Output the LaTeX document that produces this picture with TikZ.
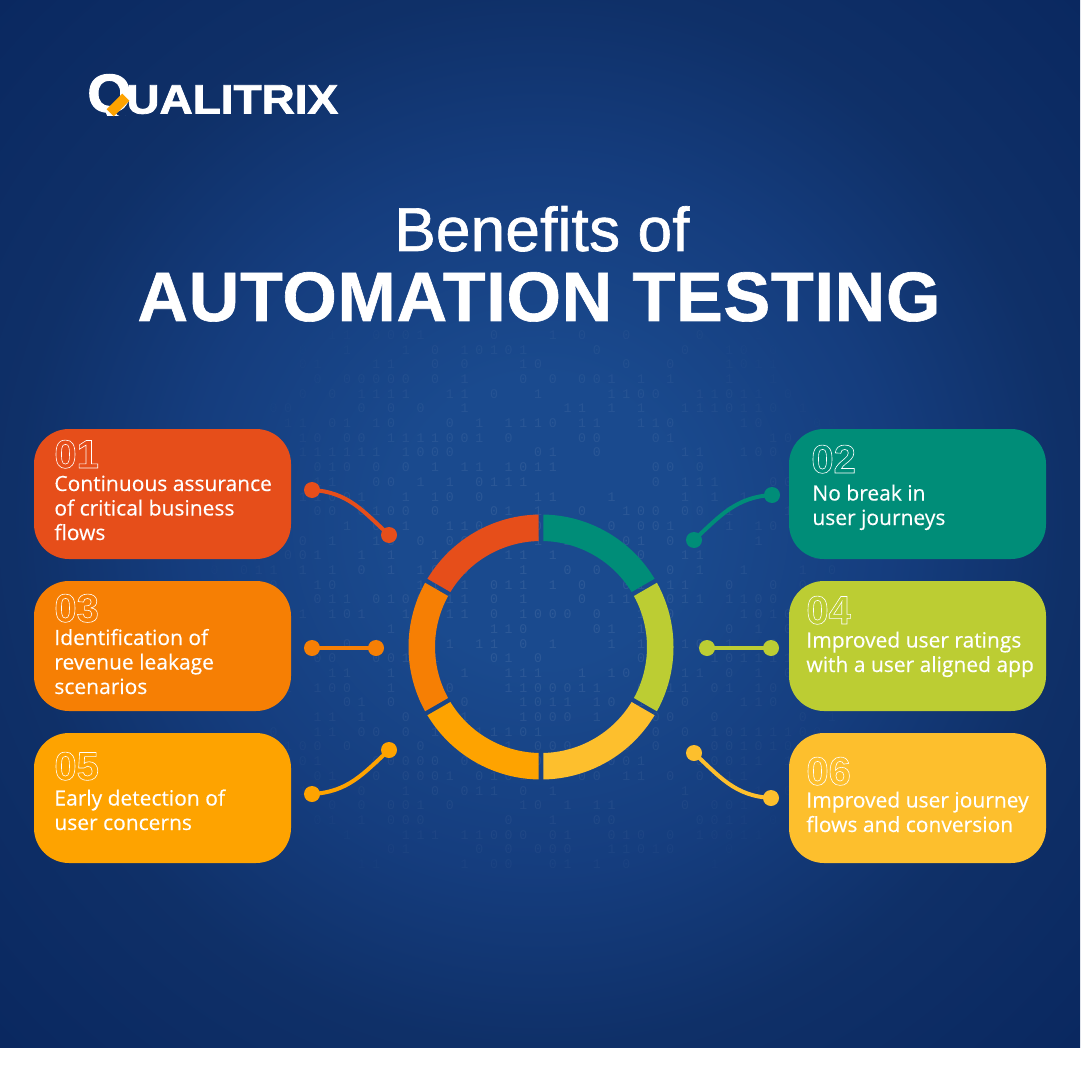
\documentclass[tikz,border=0pt]{standalone}
\usepackage{fontspec}
\setmainfont{Liberation Sans}
\newfontfamily\bodyf[FakeBold=0.3]{Open Sans}
\newfontfamily\logof[FakeBold=2,FakeStretch=1.12]{Liberation Sans Bold}
\newfontfamily\logoq[FakeBold=2,FakeStretch=1.05]{Liberation Sans Bold}
\newfontfamily\titlef[FakeBold=1.1,LetterSpace=0.4]{Liberation Sans}
\newfontfamily\titleb[FakeBold=0.9,LetterSpace=1.1]{Liberation Sans Bold}
\newfontfamily\digitf{Liberation Mono}
\usetikzlibrary{calc}
\definecolor{cRed}{HTML}{E64E1A}
\definecolor{cOrange}{HTML}{F67F04}
\definecolor{cAmber}{HTML}{FEA300}
\definecolor{cTeal}{HTML}{008D78}
\definecolor{cLime}{HTML}{BCCD33}
\definecolor{cYellow}{HTML}{FDBF2D}
\definecolor{bgIn}{HTML}{1A4A8E}
\definecolor{bgMid}{HTML}{153D7E}
\definecolor{bgFar}{HTML}{0F3068}
\definecolor{bgOut}{HTML}{0A2860}
\pgfdeclareradialshading{bgshade}{\pgfpoint{0bp}{0bp}}{
  color(0bp)=(bgIn); color(4.5bp)=(bgIn); color(11bp)=(bgMid); color(16.5bp)=(bgFar); color(23.5bp)=(bgOut); color(50bp)=(bgOut)}
\newcommand{\outlined}[1]{\special{pdf:code q 1 Tr 0.3 w 1 1 1 RG}#1\special{pdf:code Q}}
\tikzset{
  card/.style={rectangle,rounded corners=17.5pt,minimum width=128.5pt,minimum height=65pt,inner sep=0pt,fill=#1},
  cardtext/.style={anchor=base west,inner sep=0pt,text=white,align=left,font=\bodyf\fontsize{10.5pt}{12.25pt}\selectfont},
  numeral/.style={anchor=base west,inner sep=0pt,text=white,font=\fontsize{20pt}{20pt}\selectfont\bfseries},
  dot/.style={circle,fill=#1,minimum size=8pt,inner sep=0pt},
  link/.style={draw=#1,line width=2pt},
  digit/.style={inner sep=0pt,font=\digitf\fontsize{6.6pt}{6.6pt}\selectfont,text=white}
}
\begin{document}
\begin{tikzpicture}[x=0.5pt,y=-0.5pt]
\useasboundingbox (0,0) rectangle (1080,1080);
\fill[white] (0,0) rectangle (1080,1080);
\begin{scope}
  \clip (0,0) rectangle (1080,1047);
  \shade[shading=bgshade] (540,520) circle[radius=800];
\end{scope}
% binary rain
\pgfmathsetseed{4217}
\foreach \i in {0,...,46}{
  \foreach \j in {0,...,36}{
    \pgfmathsetmacro{\px}{200+14.7*\i}
    \pgfmathsetmacro{\py}{335+14.7*\j}
    \pgfmathsetmacro{\ux}{(\px-540)/350}
    \pgfmathsetmacro{\uy}{(\py-590)/350}
    \pgfmathsetmacro{\dd}{\ux*\ux+\uy*\uy}
    \pgfmathsetmacro{\keep}{rnd}
    \pgfmathsetmacro{\bit}{int(rnd*2)}
    \pgfmathsetmacro{\op}{\dd<1 ? 0.085*(1-\dd) : 0}
    \pgfmathparse{(\keep<0.5)&&(\dd<1) ? 1 : 0}
    \ifnum\pgfmathresult=1
      \node[digit,text opacity=\op] at (\px,\py) {\bit};
    \fi
  }
}
% logo
\begin{scope}
  \clip (80,60) rectangle (135,115.5);
  \node[anchor=base west,inner sep=0pt,text=white,font=\logoq\fontsize{27pt}{27pt}\selectfont] (logoQ) at (87,112) {Q};
\end{scope}
\node[anchor=base west,inner sep=0pt,text=white,font=\logof\fontsize{20.5pt}{20.5pt}\selectfont] (logoT) at (126,113.5) {UALITRIX};
\fill[cAmber,rotate around={45:(118,105)}] (107,100) rectangle (129,110);
% title
\node[anchor=base,inner sep=0pt,text=white,font=\titlef\fontsize{31pt}{31pt}\selectfont] (title1) at (542,251) {Benefits of};
\node[anchor=base,inner sep=0pt,text=white,font=\titleb\fontsize{35pt}{35pt}\selectfont] (title2) at (539,321) {AUTOMATION TESTING};
% cards
\node[card=cRed] (c1) at (162.5,494) {};
\node[card=cOrange] (c3) at (162.5,646) {};
\node[card=cAmber] (c5) at (162.5,798) {};
\node[card=cTeal] (c2) at (917.5,494) {};
\node[card=cLime] (c4) at (917.5,646) {};
\node[card=cYellow] (c6) at (917.5,798) {};
% numerals
\node[numeral] (n1) at (54,468) {\outlined{01}};
\node[numeral] (n3) at (54,622) {\outlined{03}};
\node[numeral] (n5) at (54,780) {\outlined{05}};
\node[numeral] (n2) at (811,473) {\outlined{02}};
\node[numeral] (n4) at (806,624) {\outlined{04}};
\node[numeral] (n6) at (806,785) {\outlined{06}};
% texts
\node[cardtext] (t1a) at (54,540) {Continuous assurance\\of critical business\\flows};
\node[cardtext] (t3a) at (54,694) {Identification of\\revenue leakage\\scenarios};
\node[cardtext] (t5a) at (54,830) {Early detection of\\user concerns};
\node[cardtext] (t2a) at (812,525) {No break in\\user journeys};
\node[cardtext] (t4a) at (806,672) {Improved user ratings\\with a user aligned app};
\node[cardtext] (t6a) at (806,832) {Improved user journey\\flows and conversion};
% ring
\begin{scope}[shift={(541,647)},x=0.5pt,y=0.5pt]
  \foreach \s/\col in {90/cRed,150/cOrange,210/cAmber,270/cYellow,330/cLime,30/cTeal}{
    \pgfmathsetmacro{\ao}{\s+1}
    \pgfmathsetmacro{\bo}{\s+59}
    \pgfmathsetmacro{\ai}{\s+1.25}
    \pgfmathsetmacro{\bi}{\s+58.75}
    \fill[\col] (\ao:132.5) arc[start angle=\ao,end angle=\bo,radius=132.5]
       -- (\bi:106) arc[start angle=\bi,end angle=\ai,radius=106] -- cycle;
  }
\end{scope}
% connector dots
\node[dot=cRed] (d1a) at (312,490) {};
\node[dot=cRed] (d1b) at (389,535) {};
\node[dot=cOrange] (d3a) at (312,648) {};
\node[dot=cOrange] (d3b) at (376,648) {};
\node[dot=cAmber] (d5a) at (312,794) {};
\node[dot=cAmber] (d5b) at (389,750) {};
\node[dot=cTeal] (d2a) at (772,495) {};
\node[dot=cTeal] (d2b) at (694,540) {};
\node[dot=cLime] (d4a) at (771,648) {};
\node[dot=cLime] (d4b) at (707,648) {};
\node[dot=cYellow] (d6a) at (771,798) {};
\node[dot=cYellow] (d6b) at (694,753) {};
% connectors
\draw[link=cRed] (d1a.center) .. controls ($(d1a.center)+(36,2)$) and ($(d1b.center)+(-26,-24)$) .. (d1b.center);
\draw[link=cOrange] (d3a.center) -- (d3b.center);
\draw[link=cAmber] (d5a.center) .. controls ($(d5a.center)+(36,-2)$) and ($(d5b.center)+(-26,24)$) .. (d5b.center);
\draw[link=cTeal] (d2a.center) .. controls ($(d2a.center)+(-36,2)$) and ($(d2b.center)+(26,-24)$) .. (d2b.center);
\draw[link=cLime] (d4a.center) -- (d4b.center);
\draw[link=cYellow] (d6a.center) .. controls ($(d6a.center)+(-36,-2)$) and ($(d6b.center)+(26,24)$) .. (d6b.center);
\end{tikzpicture}
\end{document}
